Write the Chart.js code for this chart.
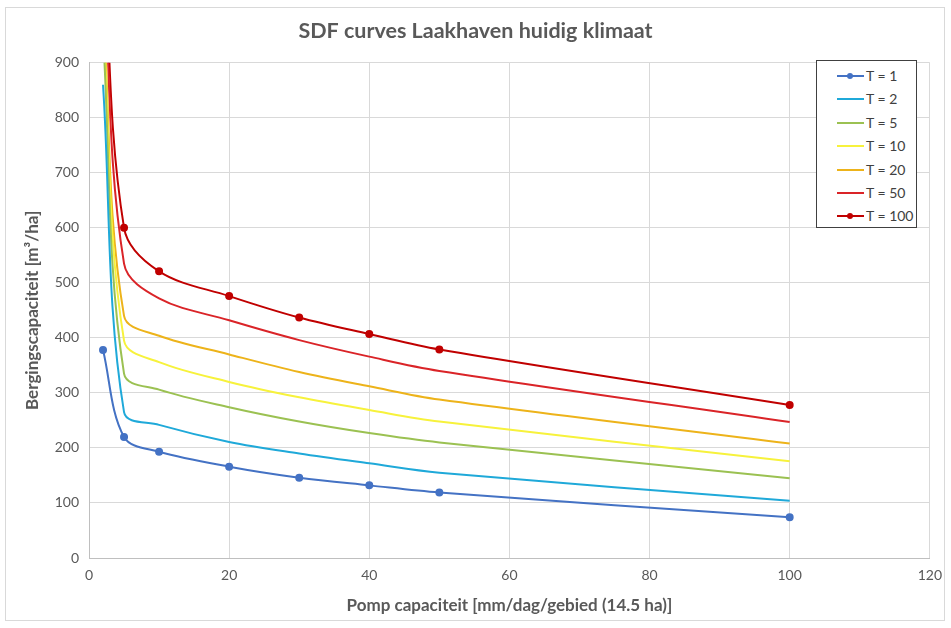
<!DOCTYPE html>
<html>
<head>
<meta charset="utf-8">
<script src="https://cdn.jsdelivr.net/npm/chart.js@4"></script>
<style>
  html, body { margin: 0; padding: 0; background: #fff; }
  #wrap { position: relative; width: 951px; height: 628px; }
  #frame { position: absolute; left: 5px; top: 7px; width: 940px; height: 614px; border: 1px solid #d9d9d9; box-sizing: border-box; pointer-events: none; }
  #legenda { position: absolute; left: 816px; top: 60px; width: 101px; height: 168px; border: 1px solid #404040; box-sizing: border-box; background: #fff; font-family: Lato, "Liberation Sans", sans-serif; font-size: 14px; color: #404040; padding-top: 3px; }
  .item { position: relative; height: 23.4px; line-height: 23.4px; }
  .lijn { position: absolute; left: 20px; top: 11px; width: 27px; height: 0; border-top: 2px solid; }
  .punt { position: absolute; left: 30px; top: 9px; width: 6px; height: 6px; border-radius: 50%; }
  .tekst { position: absolute; left: 49px; top: 0; }
</style>
</head>
<body>
<div id="wrap">
  <canvas id="grafiekSDF" width="951" height="628"></canvas>
  <div id="frame"></div>
  <div id="legenda"></div>
</div>
<script>
// Pompcapaciteit (mm/dag) en bergingscapaciteit (m3/ha) per herhalingstijd
const pompCapaciteit = [2, 5, 10, 20, 30, 40, 50, 100];
const bergingT1   = [378, 220, 193, 166, 146, 132, 119, 74];
const bergingT2   = [860, 265, 242, 211, 190, 172, 155, 104];
const bergingT5   = [950, 335, 306, 274, 248, 227, 210, 145];
const bergingT10  = [980, 395, 356, 320, 292, 269, 248, 176];
const bergingT20  = [1000, 440, 404, 370, 338, 312, 288, 208];
const bergingT50  = [1100, 535, 472, 432, 396, 366, 340, 247];
const bergingT100 = [1150, 600, 521, 476, 437, 407, 379, 278];

const reeksen = [
  { label: "T = 1",   data: bergingT1,   kleur: "#4472C4", punten: true },
  { label: "T = 2",   data: bergingT2,   kleur: "#1FA9D9", punten: false },
  { label: "T = 5",   data: bergingT5,   kleur: "#9BC152", punten: false },
  { label: "T = 10",  data: bergingT10,  kleur: "#F7F23C", punten: false },
  { label: "T = 20",  data: bergingT20,  kleur: "#EDB31A", punten: false },
  { label: "T = 50",  data: bergingT50,  kleur: "#DA2428", punten: false },
  { label: "T = 100", data: bergingT100, kleur: "#C00000", punten: true }
];

const grijs = "#595959";
const lettertype = "Lato, 'Liberation Sans', sans-serif";

new Chart(document.getElementById("grafiekSDF"), {
  type: "scatter",
  data: {
    datasets: reeksen.map(r => ({
      label: r.label,
      data: pompCapaciteit.map((x, i) => ({ x: x, y: r.data[i] })),
      showLine: true,
      borderColor: r.kleur,
      backgroundColor: r.kleur,
      borderWidth: 2,
      pointRadius: r.punten ? 3 : 0,
      pointHoverRadius: r.punten ? 3 : 0,
      tension: 0.35
    }))
  },
  options: {
    responsive: false,
    animation: false,
    layout: { padding: { left: 18, right: 18, top: 0, bottom: 8 } },
    plugins: {
      legend: { display: false },
      tooltip: { enabled: false },
      title: {
        display: true,
        text: "SDF curves Laakhaven huidig klimaat",
        color: grijs,
        font: { family: lettertype, size: 21.5, weight: "bold" },
        padding: { top: 18, bottom: 19 }
      }
    },
    scales: {
      x: {
        type: "linear",
        min: 0,
        max: 120,
        ticks: { stepSize: 20, color: grijs, font: { family: lettertype, size: 14 }, padding: 9 },
        grid: { color: "#d9d9d9", drawTicks: false },
        border: { color: "#bfbfbf" },
        title: { display: true, text: "Pomp capaciteit [mm/dag/gebied (14.5 ha)]", color: grijs, font: { family: lettertype, size: 17, weight: "bold" }, padding: { top: 8 } },
        afterFit: s => { s.height = 62; }
      },
      y: {
        min: 0,
        max: 900,
        ticks: { stepSize: 100, color: grijs, font: { family: lettertype, size: 14 }, padding: 10 },
        grid: { color: "#d9d9d9", drawTicks: false },
        border: { color: "#bfbfbf" },
        title: { display: true, text: "Bergingscapaciteit [m³/ha]", color: grijs, font: { family: lettertype, size: 17, weight: "bold" } },
        afterFit: s => { s.width = 71; }
      }
    }
  }
});

// Legenda binnen het grafiekgebied, zoals in Excel
const legenda = document.getElementById("legenda");
reeksen.forEach(r => {
  const item = document.createElement("div");
  item.className = "item";
  item.innerHTML = '<span class="lijn" style="border-color:' + r.kleur + '"></span>' +
    (r.punten ? '<span class="punt" style="background:' + r.kleur + '"></span>' : '') +
    '<span class="tekst">' + r.label + '</span>';
  legenda.appendChild(item);
});
</script>
</body>
</html>
